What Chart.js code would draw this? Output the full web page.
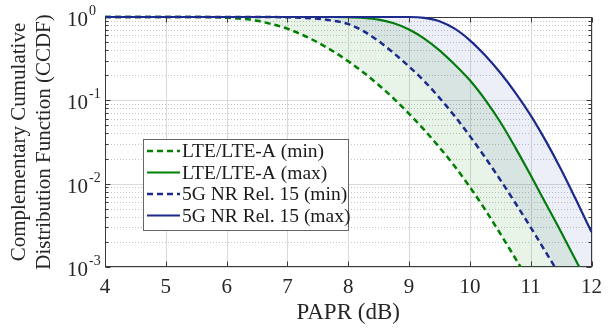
<!DOCTYPE html>
<html>
<head>
<meta charset="utf-8">
<script src="https://cdn.jsdelivr.net/npm/chart.js@4.4.1/dist/chart.umd.min.js"></script>
<style>
  html, body { margin: 0; padding: 0; background: #ffffff; }
  canvas { display: block; }
</style>
</head>
<body>
<canvas id="ccdf" width="610" height="328"></canvas>
<script>
// PAPR grid (dB) shared by all four CCDF curves
const papr = [4, 4.25, 4.5, 4.75, 5, 5.25, 5.5, 5.75, 6, 6.25, 6.5, 6.75, 7, 7.25, 7.5, 7.75,
              8, 8.25, 8.5, 8.75, 9, 9.25, 9.5, 9.75, 10, 10.25, 10.5, 10.75, 11, 11.25, 11.5, 11.75, 12];

// CCDF values, Pr(PAPR > x)
const lteMin = [1, 1, 1, 1, 1, 1, 1, 0.993, 0.979, 0.953, 0.899, 0.820, 0.723, 0.608, 0.494, 0.388,
                0.294, 0.216, 0.153, 0.1045, 0.0690, 0.0441, 0.0272, 0.0162, 0.00910, 0.00489, 0.00251,
                0.00126, 0.000631, 0.000316, 0.000158, 0.0000794, 0.0000398];
const lteMax = [1, 1, 1, 1, 1, 1, 1, 1, 1, 1, 1, 1, 1, 1, 1, 1,
                0.993, 0.973, 0.929, 0.841, 0.708, 0.550, 0.398, 0.269, 0.174, 0.102, 0.0550,
                0.0269, 0.0126, 0.00575, 0.00263, 0.00117, 0.000525];
const nrMin  = [1, 1, 1, 1, 1, 1, 1, 1, 1, 1, 1, 1, 0.991, 0.977, 0.951, 0.902,
                0.822, 0.676, 0.513, 0.367, 0.254, 0.170, 0.107, 0.0646, 0.0372, 0.0207, 0.0111,
                0.00582, 0.00299, 0.00150, 0.000750, 0.000367, 0.000180];
const nrMax  = [1, 1, 1, 1, 1, 1, 1, 1, 1, 1, 1, 1, 1, 1, 1, 1,
                1, 1, 1, 1, 1, 0.977, 0.891, 0.724, 0.525, 0.347, 0.214,
                0.123, 0.0661, 0.0324, 0.0148, 0.00631, 0.00263];

const seriesNames = ['LTE/LTE-A (min)', 'LTE/LTE-A (max)', '5G NR Rel. 15 (min)', '5G NR Rel. 15 (max)'];
const xTickValues = [4, 5, 6, 7, 8, 9, 10, 11, 12];
const yExponents = [0, -1, -2, -3];

const GREEN = 'rgb(0,128,0)';
const BLUE = 'rgb(28,42,140)';
const SERIF = '"Liberation Serif", "Times New Roman", serif';
const INK = '#262626';

const toPoints = vals => papr.map((x, i) => ({ x: x, y: vals[i] }));
const lineClip = { left: 0, top: 3, right: 0, bottom: 0 };

// Grid, frame and inward tick marks in the MATLAB style
const axesFrame = {
  id: 'axesFrame',
  beforeDatasetsDraw(chart) {
    const { ctx, chartArea: a, scales: { x, y } } = chart;
    ctx.save();
    // minor horizontal dotted lines
    ctx.strokeStyle = '#c4c4c4';
    ctx.lineWidth = 1;
    ctx.setLineDash([1, 2]);
    for (const e of yExponents) {
      if (e === 0) continue;
      for (let m = 2; m <= 9; m++) {
        const py = Math.round(y.getPixelForValue(m * Math.pow(10, e))) + 0.5;
        ctx.beginPath(); ctx.moveTo(a.left, py); ctx.lineTo(a.right, py); ctx.stroke();
      }
    }
    // major grid lines
    ctx.setLineDash([]);
    ctx.strokeStyle = '#dadada';
    for (const e of yExponents) {
      const py = Math.round(y.getPixelForValue(Math.pow(10, e))) + 0.5;
      ctx.beginPath(); ctx.moveTo(a.left, py); ctx.lineTo(a.right, py); ctx.stroke();
    }
    for (const v of xTickValues) {
      const px = Math.round(x.getPixelForValue(v)) + 0.5;
      ctx.beginPath(); ctx.moveTo(px, a.top); ctx.lineTo(px, a.bottom); ctx.stroke();
    }
    // frame
    ctx.strokeStyle = '#3a3a3a';
    ctx.lineWidth = 1;
    const L = Math.round(a.left) + 0.5, R = Math.round(a.right) - 0.5;
    const T = Math.round(a.top) + 0.5, B = Math.round(a.bottom) - 0.5;
    ctx.strokeRect(L, T, R - L, B - T);
    // tick marks pointing inwards
    ctx.beginPath();
    for (const v of xTickValues) {
      const px = Math.round(x.getPixelForValue(v)) + 0.5;
      ctx.moveTo(px, B); ctx.lineTo(px, B - 5);
      ctx.moveTo(px, T); ctx.lineTo(px, T + 5);
    }
    for (const e of yExponents) {
      const py = Math.round(y.getPixelForValue(Math.pow(10, e))) + 0.5;
      ctx.moveTo(L, py); ctx.lineTo(L + 5, py);
      ctx.moveTo(R, py); ctx.lineTo(R - 5, py);
      if (e === 0) continue;
      for (let m = 2; m <= 9; m++) {
        const pm = Math.round(y.getPixelForValue(m * Math.pow(10, e))) + 0.5;
        ctx.moveTo(L, pm); ctx.lineTo(L + 3, pm);
        ctx.moveTo(R, pm); ctx.lineTo(R - 3, pm);
      }
    }
    ctx.stroke();
    ctx.restore();
  },
  afterDatasetsDraw(chart) {
    const { ctx, scales: { y } } = chart;
    ctx.save();
    // y tick labels as powers of ten
    ctx.fillStyle = INK;
    for (const e of yExponents) {
      const py = y.getPixelForValue(Math.pow(10, e));
      ctx.font = '21px ' + SERIF;
      ctx.textAlign = 'right';
      ctx.textBaseline = 'alphabetic';
      ctx.fillText('10', 88, py + 9);
      ctx.font = '14px ' + SERIF;
      ctx.textAlign = 'left';
      ctx.fillText(String(e), 89, py - 2);
    }
    // legend box
    const bx = 143.5, by = 139.5, bw = 205, bh = 91;
    ctx.fillStyle = '#ffffff';
    ctx.fillRect(bx, by, bw, bh);
    ctx.strokeStyle = '#666666';
    ctx.lineWidth = 1;
    ctx.strokeRect(bx, by, bw, bh);
    const rows = [151, 172.5, 194, 215.5];
    chart.data.datasets.forEach((ds, i) => {
      const ry = rows[i];
      ctx.strokeStyle = ds.borderColor;
      ctx.lineWidth = ds.borderWidth;
      ctx.setLineDash(ds.borderDash || []);
      ctx.beginPath(); ctx.moveTo(147, ry); ctx.lineTo(180, ry); ctx.stroke();
      ctx.setLineDash([]);
      ctx.fillStyle = '#1a1a1a';
      ctx.font = '19.5px ' + SERIF;
      ctx.textAlign = 'left';
      ctx.textBaseline = 'middle';
      ctx.fillText(ds.label, 182, ry + 1);
    });
    ctx.restore();
  }
};

new Chart(document.getElementById('ccdf'), {
  type: 'line',
  data: {
    datasets: [
      { label: seriesNames[0], data: toPoints(lteMin), borderColor: GREEN, borderWidth: 2.5,
        borderDash: [6, 4], fill: 1, backgroundColor: 'rgba(0,128,0,0.09)', order: 3, clip: lineClip },
      { label: seriesNames[1], data: toPoints(lteMax), borderColor: GREEN, borderWidth: 2.2,
        fill: false, order: 2, clip: lineClip },
      { label: seriesNames[2], data: toPoints(nrMin), borderColor: BLUE, borderWidth: 2.5,
        borderDash: [6, 4], fill: 3, backgroundColor: 'rgba(40,75,165,0.085)', order: 1, clip: lineClip },
      { label: seriesNames[3], data: toPoints(nrMax), borderColor: BLUE, borderWidth: 2.2,
        fill: false, order: 0, clip: lineClip }
    ]
  },
  options: {
    responsive: false,
    animation: false,
    devicePixelRatio: 1,
    layout: { padding: { top: 17, right: 12, left: 0, bottom: 0 } },
    elements: {
      point: { radius: 0, hoverRadius: 0 },
      line: { cubicInterpolationMode: 'monotone' }
    },
    plugins: { legend: { display: false }, tooltip: { enabled: false } },
    scales: {
      x: {
        type: 'linear', min: 4, max: 12,
        afterFit(s) { s.height = 61; },
        grid: { display: false, drawTicks: false },
        border: { display: false },
        ticks: { stepSize: 1, autoSkip: false, maxRotation: 0, padding: 8,
                 color: INK, font: { family: SERIF, size: 21 } },
        title: { display: true, text: 'PAPR (dB)', color: INK,
                 font: { family: SERIF, size: 23 }, padding: { top: 0, bottom: 1 } }
      },
      y: {
        type: 'logarithmic', min: 0.001, max: 1,
        afterFit(s) { s.width = 105; },
        grid: { display: false, drawTicks: false },
        border: { display: false },
        ticks: { display: false },
        title: { display: true, text: ['Complementary Cumulative', 'Distribution Function (CCDF)'],
                 color: INK, font: { family: SERIF, size: 21 }, padding: { top: 7, bottom: 0 } }
      }
    }
  },
  plugins: [axesFrame]
});
</script>
</body>
</html>
